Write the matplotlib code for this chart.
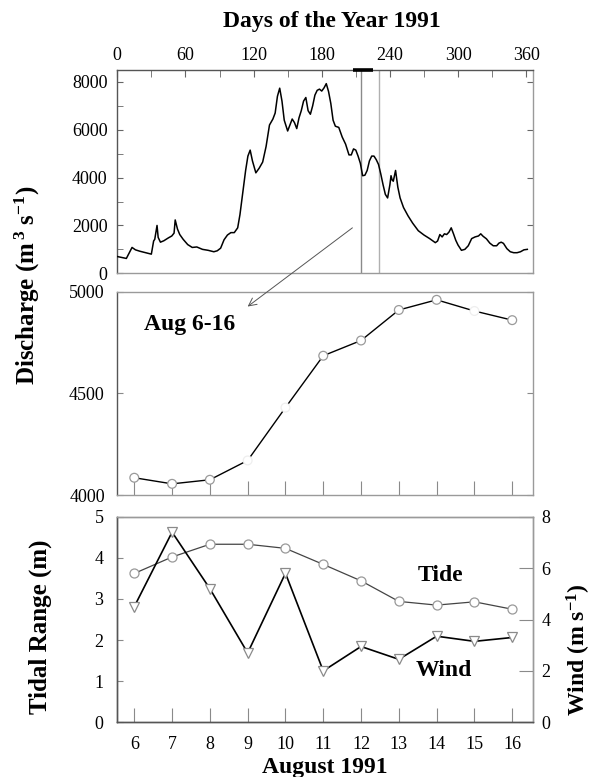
import matplotlib
matplotlib.use("Agg")
import matplotlib.pyplot as plt
from matplotlib.patches import ConnectionPatch
from matplotlib.ticker import MultipleLocator

plt.rcParams["font.family"] = ["Liberation Serif", "DejaVu Serif"]
plt.rcParams["mathtext.fontset"] = "custom"
plt.rcParams["mathtext.rm"] = "Liberation Serif:bold"
plt.rcParams["mathtext.bf"] = "Liberation Serif:bold"
plt.rcParams["mathtext.default"] = "rm"

# Daily river discharge through 1991 (m3/s), by day of year
year_day = [0, 4, 8, 11, 13, 16, 20, 25, 30, 32, 33, 35, 36, 38, 41, 45, 48, 50,
            51, 53, 55, 58, 62, 66, 70, 75, 80, 85, 88, 91, 94, 97, 100, 103, 106,
            108, 110, 113, 115, 117, 119, 122, 125, 128, 131, 134, 137, 139, 141,
            143, 145, 147, 150, 152, 154, 156, 158, 160, 162, 164, 166, 168, 170,
            172, 174, 176, 178, 180, 182, 184, 186, 188, 190, 192, 195, 198, 201,
            204, 206, 208, 210, 212, 214, 216, 218, 220, 222, 224, 226, 228, 230,
            232, 234, 236, 238, 240, 241, 242, 243, 245, 247, 249, 252, 256, 260,
            265, 270, 275, 280, 282, 284, 286, 288, 290, 292, 294, 296, 298, 300,
            303, 306, 309, 312, 315, 318, 320, 322, 325, 328, 331, 334, 336, 338,
            340, 343, 346, 349, 352, 355, 358, 361]
discharge_daily = [700, 660, 620, 900, 1080, 980, 920, 860, 800, 1350, 1420, 2000,
                   1500, 1300, 1360, 1480, 1560, 1680, 2230, 1850, 1620, 1420, 1200,
                   1080, 1100, 1000, 960, 900, 940, 1050, 1400, 1600, 1700, 1700,
                   1900, 2450, 3200, 4300, 4900, 5150, 4700, 4200, 4400, 4650, 5300,
                   6200, 6450, 6700, 7400, 7740, 7200, 6400, 5950, 6200, 6450, 6300,
                   6050, 6500, 6800, 7200, 7350, 6800, 6650, 7000, 7450, 7650, 7700,
                   7620, 7750, 7930, 7600, 7100, 6400, 6150, 6100, 5700, 5400, 4950,
                   4950, 5200, 5150, 4900, 4600, 4080, 4100, 4300, 4700, 4900, 4900,
                   4750, 4550, 4150, 3700, 3300, 3150, 3700, 4080, 3900, 3850, 4300,
                   3600, 3150, 2750, 2400, 2100, 1780, 1600, 1450, 1280, 1350, 1620,
                   1520, 1650, 1620, 1720, 1900, 1650, 1380, 1180, 960, 1000, 1150,
                   1450, 1520, 1560, 1650, 1550, 1440, 1260, 1150, 1150, 1260, 1300,
                   1250, 1030, 900, 860, 860, 900, 980, 1000]

# August 6-16 detail
aug_day = [6, 7, 8, 9, 10, 11, 12, 13, 14, 15, 16]
discharge_aug = [4085, 4055, 4075, 4170, 4430, 4685, 4760, 4910, 4960, 4905, 4860]
tide_range = [3.62, 4.02, 4.33, 4.33, 4.23, 3.84, 3.44, 2.94, 2.85, 2.93, 2.75]
wind_speed = [4.5, 7.4, 5.2, 2.7, 5.8, 2.0, 2.95, 2.45, 3.35, 3.15, 3.3]

year_ticks = [0, 60, 120, 180, 240, 300, 360]
highlight_days = (214.5, 230)

TICK_FS = 13
LABEL_FS = 18

fig = plt.figure(figsize=(5.95, 7.77), dpi=100)
L, W = 0.1971, 0.6987
ax1 = fig.add_axes([L, 0.6483, W, 0.2616])
ax2 = fig.add_axes([L, 0.3629, W, 0.2617])
ax3 = fig.add_axes([L, 0.0704, W, 0.2646])
ax4 = ax3.twinx()


def style_frame(ax, dark=("left", "bottom")):
    for name, sp in ax.spines.items():
        sp.set_linewidth(1.0)
        sp.set_color("#555555" if name in dark else "#9a9a9a")


# ---- annual hydrograph ----
ax1.plot(year_day, discharge_daily, color="black", lw=1.1, zorder=3)
ax1.set_xlim(0, 366)
ax1.set_ylim(0, 8500)
ax1.xaxis.set_ticks_position("top")
ax1.set_xticks(year_ticks)
ax1.xaxis.set_minor_locator(MultipleLocator(30))
ax1.tick_params(axis="x", which="both", direction="in", length=5, top=True,
                bottom=False, labeltop=True, labelbottom=False, pad=4,
                labelsize=TICK_FS, color="#666666")
ax1.set_yticks([0, 2000, 4000, 6000, 8000])
ax1.yaxis.set_minor_locator(MultipleLocator(1000))
ax1.tick_params(axis="y", which="both", direction="in", length=4, left=True,
                right=True, pad=7, labelsize=TICK_FS, color="#666666")
ax1.tick_params(axis="y", which="minor", right=False)
style_frame(ax1, dark=("left", "top"))
ax1.axvline(highlight_days[0], color="#8a8a8a", lw=1.0, zorder=2)
ax1.axvline(highlight_days[1], color="#b0b0b0", lw=1.0, zorder=2)
ax1.plot([207.5, 225], [8500, 8500], color="black", lw=2.6, clip_on=False,
         solid_capstyle="butt", zorder=4)

# ---- August discharge ----
ax2.plot(aug_day, discharge_aug, color="black", lw=1.0, zorder=2)
edge_cols = ["#9a9a9a"] * len(aug_day)
for i in (3, 4, 9):
    edge_cols[i] = "#eeeeee"
ax2.scatter(aug_day, discharge_aug, s=40, facecolor="white",
            edgecolors=edge_cols, linewidths=0.9, zorder=3)
ax2.set_xlim(5.55, 16.55)
ax2.set_ylim(4000, 5000)
ax2.set_xticks(aug_day)
ax2.tick_params(axis="x", direction="in", length=10, labelbottom=False,
                color="#8a8a8a")
ax2.set_yticks([4000, 4500, 5000])
ax2.tick_params(axis="y", direction="in", length=4, right=True, pad=9,
                labelsize=TICK_FS, color="#8a8a8a")
style_frame(ax2, dark=("left",))
ax2.text(6.25, 4840, "Aug 6-16", fontsize=17, fontweight="bold",
         ha="left", va="center")

# zoom connector from the annual record to the detail panel
conn = ConnectionPatch(xyA=(207, 1900), coordsA=ax1.transData,
                       xyB=(9.0, 4927), coordsB=ax2.transData,
                       arrowstyle="->", mutation_scale=14, color="#555555",
                       lw=0.7, zorder=5)
fig.add_artist(conn)

# ---- tide and wind ----
ax3.plot(aug_day, tide_range, color="#444444", lw=0.9, marker="o", ms=6.5,
         mfc="white", mec="#999999", mew=0.9, zorder=3)
ax4.plot(aug_day, wind_speed, color="black", lw=1.2, marker="v", ms=7.5,
         mfc="white", mec="#8a8a8a", mew=0.9, zorder=3)
ax3.set_xlim(5.55, 16.55)
ax3.set_ylim(0, 5)
ax4.set_ylim(0, 8)
ax3.set_xticks(aug_day)
ax3.tick_params(axis="x", direction="in", length=10, pad=10,
                labelsize=TICK_FS, color="#8a8a8a")
ax3.set_yticks([0, 1, 2, 3, 4, 5])
ax3.tick_params(axis="y", direction="in", length=4, pad=10,
                labelsize=TICK_FS, color="#8a8a8a")
ax4.set_yticks([0, 2, 4, 6, 8])
ax4.tick_params(axis="y", direction="in", length=10, pad=6,
                labelsize=TICK_FS, color="#8a8a8a")
style_frame(ax3)
style_frame(ax4)
ax3.text(14.1, 3.58, "Tide", fontsize=17, fontweight="bold",
         ha="center", va="center")
ax3.text(14.2, 1.26, "Wind", fontsize=17, fontweight="bold",
         ha="center", va="center")

# ---- figure-level labels ----
fig.text(332 / 595, 1 - 21.7 / 777, "Days of the Year 1991", fontsize=17,
         fontweight="bold", ha="center", va="center")
fig.text(325 / 595, 1 - 768 / 777, "August 1991", fontsize=17,
         fontweight="bold", ha="center", va="center")
fig.text(27 / 595, 1 - 285 / 777, r"Discharge (m$^{\,3}$ s$^{-1}$)",
         fontsize=LABEL_FS, fontweight="bold", rotation=90,
         ha="center", va="center")
fig.text(40 / 595, 1 - 627 / 777, "Tidal Range (m)", fontsize=LABEL_FS,
         fontweight="bold", rotation=90, ha="center", va="center")
fig.text(579 / 595, 1 - 650 / 777, r"Wind (m s$^{-1}$)", fontsize=17,
         fontweight="bold", rotation=90, ha="center", va="center")

fig.savefig("out.png", dpi=100, facecolor="white")
